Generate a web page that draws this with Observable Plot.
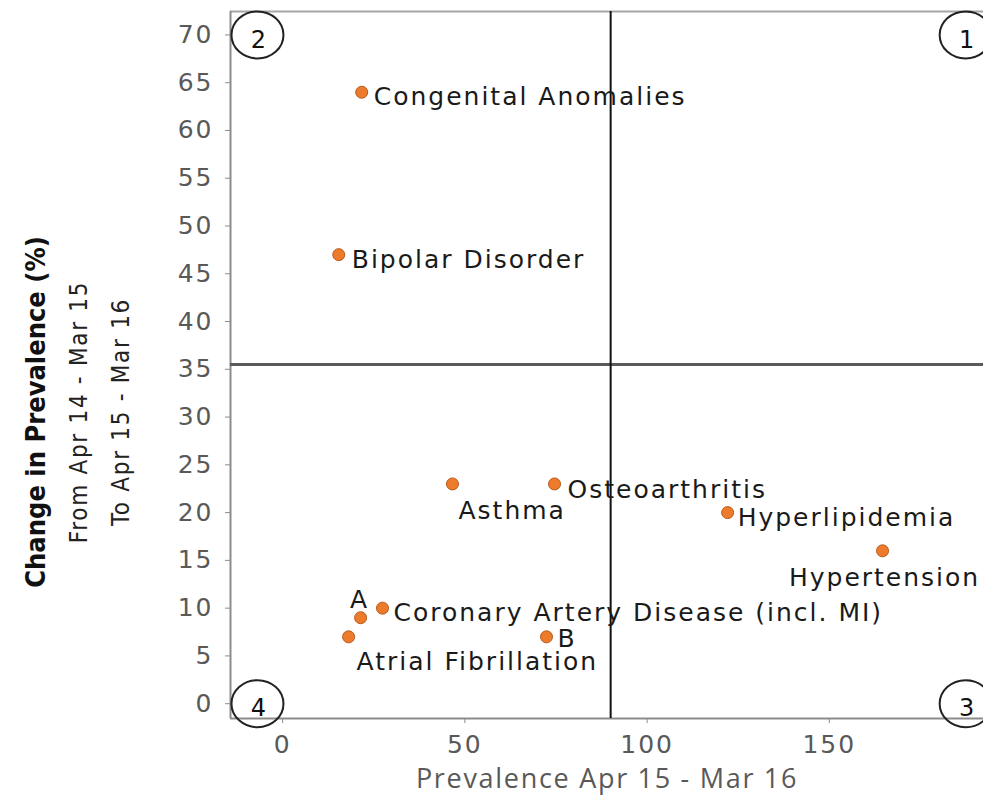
<!DOCTYPE html>
<html>
<head>
<meta charset="utf-8">
<script src="https://cdn.jsdelivr.net/npm/d3@7"></script>
<script src="https://cdn.jsdelivr.net/npm/@observablehq/plot@0.6"></script>
<style>
  html, body { margin: 0; padding: 0; background: #fff; }
  #chart svg { display: block; }
  g[aria-label="x-axis tick label"] text, g[aria-label="y-axis tick label"] text { letter-spacing: 2px; }
</style>
</head>
<body>
<div id="chart"></div>
<script>
// ---- data ----
const conditions = ["Congenital Anomalies", "Bipolar Disorder", "Asthma", "Osteoarthritis", "Hyperlipidemia", "Hypertension", "A", "Coronary Artery Disease (incl. MI)", "Atrial Fibrillation", "B"];
const prevalence = [21.7, 15.4, 46.6, 74.6, 122.1, 164.6, 21.4, 27.4, 18.1, 72.4];
const changePct = [64, 47, 23, 23, 20, 16, 9, 10, 7, 7];

const xTicks = [0, 50, 100, 150];
const yTicks = [0, 5, 10, 15, 20, 25, 30, 35, 40, 45, 50, 55, 60, 65, 70];
const xDivider = 90;
const yDivider = 35.5;

const quadrantLabels = ["1", "2", "3", "4"];
const quadrantX = [187.4, -6.9, 187.4, -6.9];
const quadrantY = [70, 70, 0, 0];

const xTitle = "Prevalence Apr 15 - Mar 16";
const yTitle = "Change in Prevalence (%)";
const ySub1 = "From Apr 14 - Mar 15";
const ySub2 = "To Apr 15 - Mar 16";

const xDomain = [-14.3, 192.3];
const yDomain = [-1.55, 72.45];

// label placement (pixel offsets, style only)
const labelStyle = {
  "Congenital Anomalies": {anchor: "start", dx: 12, dy: 5},
  "Bipolar Disorder": {anchor: "start", dx: 13, dy: 5},
  "Asthma": {anchor: "start", dx: 6, dy: 27},
  "Osteoarthritis": {anchor: "start", dx: 13, dy: 6},
  "Hyperlipidemia": {anchor: "start", dx: 10, dy: 5},
  "Hypertension": {anchor: "middle", dx: 2, dy: 27},
  "A": {anchor: "middle", dx: -1, dy: -18},
  "Coronary Artery Disease (incl. MI)": {anchor: "start", dx: 11, dy: 5},
  "Atrial Fibrillation": {anchor: "start", dx: 8, dy: 25},
  "B": {anchor: "start", dx: 11, dy: 2}
};

const points = conditions.map((name, i) => ({name, x: prevalence[i], y: changePct[i]}));
const quads = quadrantLabels.map((label, i) => ({label, x: quadrantX[i], y: quadrantY[i]}));

const ellipse = {
  draw(ctx) {
    const rx = 26, ry = 23.5, k = 0.5523;
    ctx.moveTo(rx, 0);
    ctx.bezierCurveTo(rx, ry * k, rx * k, ry, 0, ry);
    ctx.bezierCurveTo(-rx * k, ry, -rx, ry * k, -rx, 0);
    ctx.bezierCurveTo(-rx, -ry * k, -rx * k, -ry, 0, -ry);
    ctx.bezierCurveTo(rx * k, -ry, rx, -ry * k, rx, 0);
    ctx.closePath();
  }
};

const labelMarks = points.map(p =>
  Plot.text([p], {
    x: "x", y: "y", text: "name",
    textAnchor: labelStyle[p.name].anchor,
    dx: labelStyle[p.name].dx, dy: labelStyle[p.name].dy,
    fontSize: 25, fill: "#1a1a1a",
    fontFamily: "DejaVu Sans"
  })
);

const narrow = "Liberation Sans Narrow, DejaVu Sans Condensed, sans-serif";

const chart = Plot.plot({
  width: 983,
  height: 801,
  marginLeft: 230,
  marginRight: 0,
  marginTop: 11,
  marginBottom: 83,
  style: {fontFamily: "DejaVu Sans", background: "white", overflow: "visible"},
  x: {domain: xDomain},
  y: {domain: yDomain},
  marks: [
    // frame lines
    Plot.ruleY([yDomain[1]], {stroke: "#a6a6a6", strokeWidth: 2}),
    Plot.ruleX([xDomain[0]], {stroke: "#8c8c8c", strokeWidth: 2}),
    Plot.ruleY([yDomain[0]], {stroke: "#8c8c8c", strokeWidth: 2}),
    Plot.axisX({ticks: xTicks, tickSize: 5, tickPadding: 12, fontSize: 25, fill: "#595959", stroke: "#8c8c8c", label: null}),
    Plot.axisY({ticks: yTicks, tickSize: 5, tickPadding: 12, fontSize: 25, fill: "#595959", stroke: "#8c8c8c", label: null}),
    // quadrant dividers
    Plot.ruleY([yDivider], {stroke: "#5a5a5a", strokeWidth: 3}),
    Plot.ruleX([xDivider], {stroke: "#111", strokeWidth: 2}),
    // quadrant markers
    Plot.dot(quads, {x: "x", y: "y", symbol: ellipse, r: 5, fill: "none", stroke: "#222", strokeWidth: 2}),
    Plot.text(quads, {x: "x", y: "y", text: "label", dx: 1, dy: 5, fontSize: 24, fill: "#111", fontFamily: "DejaVu Sans"}),
    // points
    Plot.dot(points, {x: "x", y: "y", r: 6, fill: "#EE7B2C", stroke: "#b65a1c", strokeWidth: 1}),
    ...labelMarks,
    // axis titles
    Plot.text([xTitle], {text: d => d, frameAnchor: "bottom", textAnchor: "middle", dx: 0, dy: 69, fontSize: 27, fill: "#595959", fontFamily: "Open Sans"}),
    Plot.text([yTitle], {text: d => d, frameAnchor: "left", textAnchor: "middle", rotate: -90, dx: -194, dy: 47, fontSize: 27, fontWeight: "bold", fill: "#111", fontFamily: narrow}),
    Plot.text([ySub1], {text: d => d, frameAnchor: "left", textAnchor: "middle", rotate: -90, dx: -151, dy: 47, fontSize: 24, fill: "#222", fontFamily: narrow}),
    Plot.text([ySub2], {text: d => d, frameAnchor: "left", textAnchor: "middle", rotate: -90, dx: -109, dy: 47, fontSize: 24, fill: "#222", fontFamily: narrow})
  ]
});

// letter spacing to match the reference's wide text
const spacing = new Map([...conditions.map(c => [c, "2px"]), [xTitle, "1.7px"], [ySub1, "1.7px"], [ySub2, "1.7px"]]);
d3.select(chart).selectAll("text").each(function() {
  const t = this.textContent;
  if (spacing.has(t)) this.style.letterSpacing = spacing.get(t);
});

document.getElementById("chart").appendChild(chart);
</script>
</body>
</html>
